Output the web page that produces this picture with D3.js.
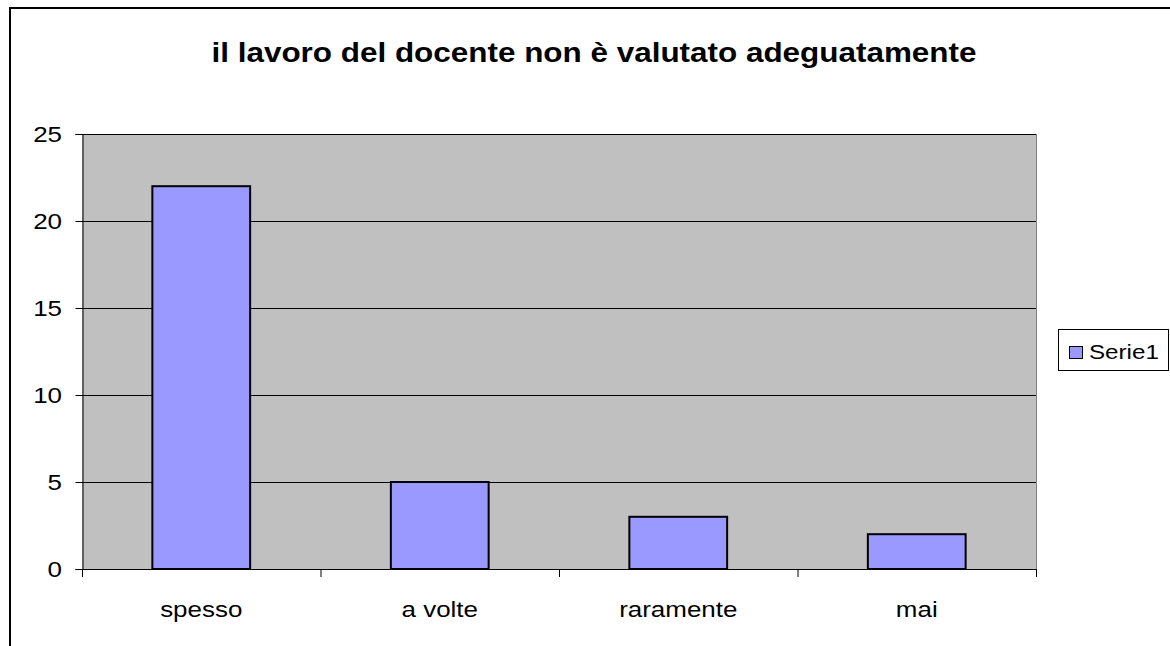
<!DOCTYPE html>
<html><head><meta charset="utf-8">
<script src="https://cdn.jsdelivr.net/npm/d3@7/dist/d3.min.js"></script>
<style>body{margin:0;background:#fff}svg{display:block}</style>
</head><body>
<svg id="c" width="1170" height="646"></svg>
<script>
const title = "il lavoro del docente non è valutato adeguatamente";
const categories = ["spesso", "a volte", "raramente", "mai"];
const values = [22, 5, 3, 2];
const yTicks = [0, 5, 10, 15, 20, 25];
const seriesName = "Serie1";

const svg = d3.select("#c");
const font = "'Liberation Sans', Arial, sans-serif";
const SX = 1.18; // horizontal stretch of the reference picture
const L = 82, R = 1036, T = 134, B = 569;

function stext(parent, x, y, str, size, anchor, weight) {
  const g = parent.append("g").attr("transform", `translate(${x},${y}) scale(${SX},1)`);
  return g.append("text").attr("x", 0).attr("y", 0)
    .attr("text-anchor", anchor || "start")
    .attr("font-family", font).attr("font-size", size)
    .attr("font-weight", weight || "normal").attr("fill", "#000").text(str);
}

svg.append("rect").attr("x", 10).attr("y", 8).attr("width", 1200).attr("height", 700)
  .attr("fill", "#fff").attr("stroke", "#000").attr("stroke-width", 2);

const x = d3.scaleBand().domain(categories).range([L, R]).paddingInner(0.59).paddingOuter(0.295);
const xb = d3.scaleBand().domain(categories).range([L, R]);
const y = d3.scaleLinear().domain([0, 25]).range([B, T]);

svg.append("rect").attr("x", L).attr("y", T).attr("width", R - L).attr("height", B - T)
  .attr("fill", "#C0C0C0");

svg.append("g").selectAll("line").data(yTicks.filter(d => d > 0)).join("line")
  .attr("x1", L).attr("x2", R).attr("y1", d => Math.round(y(d)) + 0.5).attr("y2", d => Math.round(y(d)) + 0.5)
  .attr("stroke", "#000").attr("stroke-width", 1);

svg.append("line").attr("x1", R + 0.5).attr("x2", R + 0.5).attr("y1", T).attr("y2", B)
  .attr("stroke", "#808080").attr("stroke-width", 1);

svg.append("g").selectAll("rect").data(values).join("rect")
  .attr("x", (d, i) => x(categories[i]))
  .attr("width", x.bandwidth())
  .attr("y", d => y(d))
  .attr("height", d => y(0) - y(d))
  .attr("fill", "#9999FF").attr("stroke", "#000").attr("stroke-width", 2);

// y axis
const yAxis = d3.axisLeft(y).tickValues(yTicks).tickSize(7).tickFormat("");
const gy = svg.append("g").attr("transform", `translate(${L + 0.5},0)`).call(yAxis);
gy.select(".domain").attr("stroke", "#000");
gy.selectAll(".tick line").attr("stroke", "#000");
const gyl = svg.append("g");
yTicks.forEach(d => stext(gyl, 62, y(d) + 8, String(d), 22, "end"));

// x axis
const xTickPos = categories.map(c => xb(c)).concat([R]);
const gx = svg.append("g");
gx.append("line").attr("x1", L).attr("x2", R).attr("y1", B + 0.5).attr("y2", B + 0.5).attr("stroke", "#000");
gx.selectAll("line.t").data(xTickPos).join("line").attr("class", "t")
  .attr("x1", d => d + 0.5).attr("x2", d => d + 0.5).attr("y1", B).attr("y2", B + 8).attr("stroke", "#000");
categories.forEach(c => stext(gx, xb(c) + xb.bandwidth() / 2, 617, c, 22, "middle"));

// title
svg.append("text").attr("x", 594).attr("y", 62).attr("text-anchor", "middle")
  .attr("font-family", font).attr("font-size", 27).attr("font-weight", "bold").attr("fill", "#000")
  .attr("textLength", 765).attr("lengthAdjust", "spacingAndGlyphs")
  .text(title);

// legend
const lg = svg.append("g");
lg.append("rect").attr("x", 1058.5).attr("y", 329.5).attr("width", 110).attr("height", 41)
  .attr("fill", "#fff").attr("stroke", "#000").attr("stroke-width", 1);
lg.append("rect").attr("x", 1069.5).attr("y", 346.5).attr("width", 13).attr("height", 12)
  .attr("fill", "#9999FF").attr("stroke", "#000").attr("stroke-width", 1);
stext(lg, 1089, 359, seriesName, 20.5, "start");
</script>
</body></html>
